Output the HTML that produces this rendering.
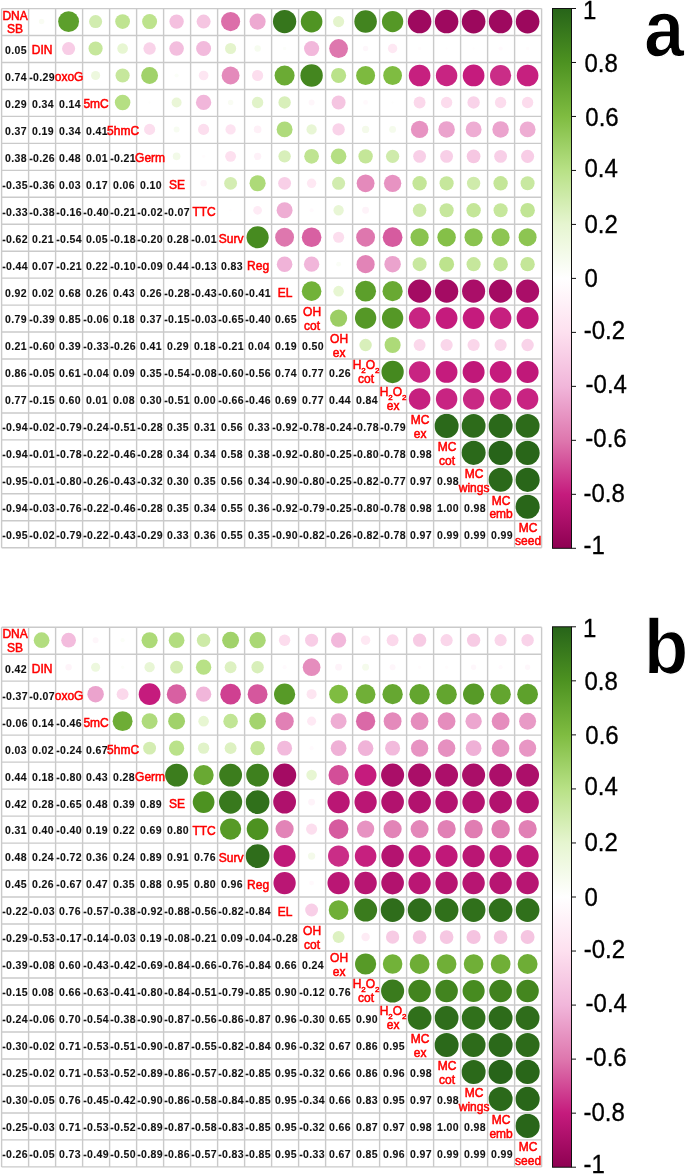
<!DOCTYPE html><html><head><meta charset="utf-8"><title>Correlation plots</title><style>html,body{margin:0;padding:0;background:#fff;overflow:hidden;}svg{display:block;}</style></head><body>
<svg width="685" height="1174" viewBox="0 0 685 1174">
<defs><linearGradient id="cbg" x1="0" y1="0" x2="0" y2="1"><stop offset="0.0" stop-color="#276419"/><stop offset="0.1" stop-color="#4D9221"/><stop offset="0.2" stop-color="#7FBC41"/><stop offset="0.3" stop-color="#B8E186"/><stop offset="0.4" stop-color="#E6F5D0"/><stop offset="0.5" stop-color="#FFFFFF"/><stop offset="0.6" stop-color="#FDE0EF"/><stop offset="0.7" stop-color="#F1B6DA"/><stop offset="0.8" stop-color="#DE77AE"/><stop offset="0.9" stop-color="#C51B7D"/><stop offset="1.0" stop-color="#8E0152"/></linearGradient></defs>
<rect width="685" height="1174" fill="#fff"/>
<g>
<circle cx="41.60" cy="21.58" r="2.72" fill="#f9fcf3"/>
<circle cx="68.60" cy="21.58" r="10.45" fill="#5c9f2b"/>
<circle cx="95.60" cy="21.58" r="6.54" fill="#d1ecaf"/>
<circle cx="122.60" cy="21.58" r="7.39" fill="#bfe491"/>
<circle cx="149.60" cy="21.58" r="7.49" fill="#bde38d"/>
<circle cx="176.60" cy="21.58" r="7.19" fill="#f4c0df"/>
<circle cx="203.60" cy="21.58" r="6.98" fill="#f5c5e1"/>
<circle cx="230.60" cy="21.58" r="9.57" fill="#dc6ea9"/>
<circle cx="257.60" cy="21.58" r="8.06" fill="#eda9d1"/>
<circle cx="284.60" cy="21.58" r="11.65" fill="#36761c"/>
<circle cx="311.60" cy="21.58" r="10.80" fill="#509423"/>
<circle cx="338.60" cy="21.58" r="5.57" fill="#e4f4cc"/>
<circle cx="365.60" cy="21.58" r="11.27" fill="#42841f"/>
<circle cx="392.60" cy="21.58" r="10.66" fill="#559826"/>
<circle cx="419.60" cy="21.58" r="11.78" fill="#9e095f"/>
<circle cx="446.60" cy="21.58" r="11.78" fill="#9e095f"/>
<circle cx="473.60" cy="21.58" r="11.84" fill="#9c085d"/>
<circle cx="500.60" cy="21.58" r="11.78" fill="#9e095f"/>
<circle cx="527.60" cy="21.58" r="11.84" fill="#9c085d"/>
<circle cx="68.60" cy="48.53" r="6.54" fill="#f8cde6"/>
<circle cx="95.60" cy="48.53" r="7.08" fill="#c6e79c"/>
<circle cx="122.60" cy="48.53" r="5.30" fill="#e7f6d2"/>
<circle cx="149.60" cy="48.53" r="6.20" fill="#f9d3e9"/>
<circle cx="176.60" cy="48.53" r="7.29" fill="#f3bede"/>
<circle cx="203.60" cy="48.53" r="7.49" fill="#f2badc"/>
<circle cx="230.60" cy="48.53" r="5.57" fill="#e4f4cc"/>
<circle cx="257.60" cy="48.53" r="3.21" fill="#f6fcef"/>
<circle cx="284.60" cy="48.53" r="1.72" fill="#fcfefa"/>
<circle cx="311.60" cy="48.53" r="7.59" fill="#f2b8db"/>
<circle cx="338.60" cy="48.53" r="9.41" fill="#de77ae"/>
<circle cx="365.60" cy="48.53" r="2.72" fill="#fef7fb"/>
<circle cx="392.60" cy="48.53" r="4.71" fill="#fee8f3"/>
<circle cx="419.60" cy="48.53" r="1.72" fill="#fffcfd"/>
<circle cx="446.60" cy="48.53" r="1.22" fill="#fffdfe"/>
<circle cx="473.60" cy="48.53" r="1.22" fill="#fffdfe"/>
<circle cx="500.60" cy="48.53" r="2.10" fill="#fffafd"/>
<circle cx="527.60" cy="48.53" r="1.72" fill="#fffcfd"/>
<circle cx="95.60" cy="75.49" r="4.55" fill="#edf8de"/>
<circle cx="122.60" cy="75.49" r="7.08" fill="#c6e79c"/>
<circle cx="149.60" cy="75.49" r="8.42" fill="#a1d26a"/>
<circle cx="176.60" cy="75.49" r="2.10" fill="#fbfef8"/>
<circle cx="203.60" cy="75.49" r="4.86" fill="#fde6f2"/>
<circle cx="230.60" cy="75.49" r="8.93" fill="#e48abb"/>
<circle cx="257.60" cy="75.49" r="5.57" fill="#fcdeee"/>
<circle cx="284.60" cy="75.49" r="10.02" fill="#6bab34"/>
<circle cx="311.60" cy="75.49" r="11.20" fill="#44861f"/>
<circle cx="338.60" cy="75.49" r="7.59" fill="#bae28a"/>
<circle cx="365.60" cy="75.49" r="9.49" fill="#7dba3f"/>
<circle cx="392.60" cy="75.49" r="9.41" fill="#7fbc41"/>
<circle cx="419.60" cy="75.49" r="10.80" fill="#c6207f"/>
<circle cx="446.60" cy="75.49" r="10.73" fill="#c82482"/>
<circle cx="473.60" cy="75.49" r="10.87" fill="#c51b7d"/>
<circle cx="500.60" cy="75.49" r="10.59" fill="#ca2d87"/>
<circle cx="527.60" cy="75.49" r="10.80" fill="#c6207f"/>
<circle cx="122.60" cy="102.44" r="7.78" fill="#b5df83"/>
<circle cx="149.60" cy="102.44" r="1.22" fill="#fefefd"/>
<circle cx="176.60" cy="102.44" r="5.01" fill="#eaf6d7"/>
<circle cx="203.60" cy="102.44" r="7.68" fill="#f1b6da"/>
<circle cx="230.60" cy="102.44" r="2.72" fill="#f9fcf3"/>
<circle cx="257.60" cy="102.44" r="5.70" fill="#e1f3c9"/>
<circle cx="284.60" cy="102.44" r="6.20" fill="#d8efba"/>
<circle cx="311.60" cy="102.44" r="2.98" fill="#fef6fa"/>
<circle cx="338.60" cy="102.44" r="6.98" fill="#f5c5e1"/>
<circle cx="365.60" cy="102.44" r="2.43" fill="#fff9fc"/>
<circle cx="392.60" cy="102.44" r="1.22" fill="#fefefd"/>
<circle cx="419.60" cy="102.44" r="5.95" fill="#fbd8eb"/>
<circle cx="446.60" cy="102.44" r="5.70" fill="#fcdced"/>
<circle cx="473.60" cy="102.44" r="6.20" fill="#f9d3e9"/>
<circle cx="500.60" cy="102.44" r="5.70" fill="#fcdced"/>
<circle cx="527.60" cy="102.44" r="5.70" fill="#fcdced"/>
<circle cx="149.60" cy="129.40" r="5.57" fill="#fcdeee"/>
<circle cx="176.60" cy="129.40" r="2.98" fill="#f7fcf1"/>
<circle cx="203.60" cy="129.40" r="5.57" fill="#fcdeee"/>
<circle cx="230.60" cy="129.40" r="5.15" fill="#fde3f1"/>
<circle cx="257.60" cy="129.40" r="3.84" fill="#fef0f7"/>
<circle cx="284.60" cy="129.40" r="7.97" fill="#afdb7c"/>
<circle cx="311.60" cy="129.40" r="5.15" fill="#e8f6d5"/>
<circle cx="338.60" cy="129.40" r="6.20" fill="#f9d3e9"/>
<circle cx="365.60" cy="129.40" r="3.65" fill="#f4faea"/>
<circle cx="392.60" cy="129.40" r="3.44" fill="#f5fbec"/>
<circle cx="419.60" cy="129.40" r="8.68" fill="#e793c2"/>
<circle cx="446.60" cy="129.40" r="8.24" fill="#eba3cd"/>
<circle cx="473.60" cy="129.40" r="7.97" fill="#eeadd3"/>
<circle cx="500.60" cy="129.40" r="8.24" fill="#eba3cd"/>
<circle cx="527.60" cy="129.40" r="7.97" fill="#eeadd3"/>
<circle cx="176.60" cy="156.35" r="3.84" fill="#f2fae8"/>
<circle cx="203.60" cy="156.35" r="1.72" fill="#fffcfd"/>
<circle cx="230.60" cy="156.35" r="5.43" fill="#fde0ef"/>
<circle cx="257.60" cy="156.35" r="3.65" fill="#fef1f8"/>
<circle cx="284.60" cy="156.35" r="6.20" fill="#d8efba"/>
<circle cx="311.60" cy="156.35" r="7.39" fill="#bfe491"/>
<circle cx="338.60" cy="156.35" r="7.78" fill="#b5df83"/>
<circle cx="365.60" cy="156.35" r="7.19" fill="#c4e698"/>
<circle cx="392.60" cy="156.35" r="6.65" fill="#cfebab"/>
<circle cx="419.60" cy="156.35" r="6.43" fill="#f8cfe7"/>
<circle cx="446.60" cy="156.35" r="6.43" fill="#f8cfe7"/>
<circle cx="473.60" cy="156.35" r="6.87" fill="#f6c7e2"/>
<circle cx="500.60" cy="156.35" r="6.43" fill="#f8cfe7"/>
<circle cx="527.60" cy="156.35" r="6.54" fill="#f8cde6"/>
<circle cx="203.60" cy="183.31" r="3.21" fill="#fef4f9"/>
<circle cx="230.60" cy="183.31" r="6.43" fill="#d4edb2"/>
<circle cx="257.60" cy="183.31" r="8.06" fill="#adda78"/>
<circle cx="284.60" cy="183.31" r="6.43" fill="#f8cfe7"/>
<circle cx="311.60" cy="183.31" r="4.71" fill="#fee8f3"/>
<circle cx="338.60" cy="183.31" r="6.54" fill="#d1ecaf"/>
<circle cx="365.60" cy="183.31" r="8.93" fill="#e48abb"/>
<circle cx="392.60" cy="183.31" r="8.68" fill="#e793c2"/>
<circle cx="419.60" cy="183.31" r="7.19" fill="#c4e698"/>
<circle cx="446.60" cy="183.31" r="7.08" fill="#c6e79c"/>
<circle cx="473.60" cy="183.31" r="6.65" fill="#cfebab"/>
<circle cx="500.60" cy="183.31" r="7.19" fill="#c4e698"/>
<circle cx="527.60" cy="183.31" r="6.98" fill="#c8e8a0"/>
<circle cx="230.60" cy="210.26" r="1.22" fill="#fffdfe"/>
<circle cx="257.60" cy="210.26" r="4.38" fill="#feebf5"/>
<circle cx="284.60" cy="210.26" r="7.97" fill="#eeadd3"/>
<circle cx="311.60" cy="210.26" r="2.10" fill="#fffafd"/>
<circle cx="338.60" cy="210.26" r="5.15" fill="#e8f6d5"/>
<circle cx="365.60" cy="210.26" r="3.44" fill="#fef3f9"/>
<circle cx="419.60" cy="210.26" r="6.76" fill="#cdeaa7"/>
<circle cx="446.60" cy="210.26" r="7.08" fill="#c6e79c"/>
<circle cx="473.60" cy="210.26" r="7.19" fill="#c4e698"/>
<circle cx="500.60" cy="210.26" r="7.08" fill="#c6e79c"/>
<circle cx="527.60" cy="210.26" r="7.29" fill="#c1e595"/>
<circle cx="257.60" cy="237.22" r="11.07" fill="#478b20"/>
<circle cx="284.60" cy="237.22" r="9.41" fill="#de77ae"/>
<circle cx="311.60" cy="237.22" r="9.80" fill="#d860a2"/>
<circle cx="338.60" cy="237.22" r="5.57" fill="#fcdeee"/>
<circle cx="365.60" cy="237.22" r="9.41" fill="#de77ae"/>
<circle cx="392.60" cy="237.22" r="9.87" fill="#d65b9f"/>
<circle cx="419.60" cy="237.22" r="9.09" fill="#8ac34f"/>
<circle cx="446.60" cy="237.22" r="9.25" fill="#85c048"/>
<circle cx="473.60" cy="237.22" r="9.09" fill="#8ac34f"/>
<circle cx="500.60" cy="237.22" r="9.01" fill="#8dc552"/>
<circle cx="527.60" cy="237.22" r="9.01" fill="#8dc552"/>
<circle cx="284.60" cy="264.17" r="7.78" fill="#f0b3d8"/>
<circle cx="311.60" cy="264.17" r="7.68" fill="#f1b6da"/>
<circle cx="338.60" cy="264.17" r="2.43" fill="#fafdf6"/>
<circle cx="365.60" cy="264.17" r="9.09" fill="#e284b7"/>
<circle cx="392.60" cy="264.17" r="8.24" fill="#eba3cd"/>
<circle cx="419.60" cy="264.17" r="6.98" fill="#c8e8a0"/>
<circle cx="446.60" cy="264.17" r="7.49" fill="#bde38d"/>
<circle cx="473.60" cy="264.17" r="7.08" fill="#c6e79c"/>
<circle cx="500.60" cy="264.17" r="7.29" fill="#c1e595"/>
<circle cx="527.60" cy="264.17" r="7.19" fill="#c4e698"/>
<circle cx="311.60" cy="291.13" r="9.80" fill="#72b239"/>
<circle cx="338.60" cy="291.13" r="5.30" fill="#e7f6d2"/>
<circle cx="365.60" cy="291.13" r="10.45" fill="#5c9f2b"/>
<circle cx="392.60" cy="291.13" r="10.09" fill="#69a933"/>
<circle cx="419.60" cy="291.13" r="11.65" fill="#a40b63"/>
<circle cx="446.60" cy="291.13" r="11.65" fill="#a40b63"/>
<circle cx="473.60" cy="291.13" r="11.53" fill="#aa0e68"/>
<circle cx="500.60" cy="291.13" r="11.65" fill="#a40b63"/>
<circle cx="527.60" cy="291.13" r="11.53" fill="#aa0e68"/>
<circle cx="338.60" cy="318.08" r="8.59" fill="#9cce64"/>
<circle cx="365.60" cy="318.08" r="10.66" fill="#559826"/>
<circle cx="392.60" cy="318.08" r="10.66" fill="#559826"/>
<circle cx="419.60" cy="318.08" r="10.73" fill="#c82482"/>
<circle cx="446.60" cy="318.08" r="10.87" fill="#c51b7d"/>
<circle cx="473.60" cy="318.08" r="10.87" fill="#c51b7d"/>
<circle cx="500.60" cy="318.08" r="10.80" fill="#c6207f"/>
<circle cx="527.60" cy="318.08" r="11.00" fill="#c01879"/>
<circle cx="365.60" cy="345.04" r="6.20" fill="#d8efba"/>
<circle cx="392.60" cy="345.04" r="8.06" fill="#adda78"/>
<circle cx="419.60" cy="345.04" r="5.95" fill="#fbd8eb"/>
<circle cx="446.60" cy="345.04" r="6.08" fill="#fad6ea"/>
<circle cx="473.60" cy="345.04" r="6.08" fill="#fad6ea"/>
<circle cx="500.60" cy="345.04" r="6.08" fill="#fad6ea"/>
<circle cx="527.60" cy="345.04" r="6.20" fill="#f9d3e9"/>
<circle cx="392.60" cy="371.99" r="11.14" fill="#45891f"/>
<circle cx="419.60" cy="371.99" r="10.73" fill="#c82482"/>
<circle cx="446.60" cy="371.99" r="10.87" fill="#c51b7d"/>
<circle cx="473.60" cy="371.99" r="11.00" fill="#c01879"/>
<circle cx="500.60" cy="371.99" r="10.87" fill="#c51b7d"/>
<circle cx="527.60" cy="371.99" r="11.00" fill="#c01879"/>
<circle cx="419.60" cy="398.95" r="10.80" fill="#c6207f"/>
<circle cx="446.60" cy="398.95" r="10.73" fill="#c82482"/>
<circle cx="473.60" cy="398.95" r="10.66" fill="#c92984"/>
<circle cx="500.60" cy="398.95" r="10.73" fill="#c82482"/>
<circle cx="527.60" cy="398.95" r="10.73" fill="#c82482"/>
<circle cx="446.60" cy="425.90" r="12.03" fill="#2b691a"/>
<circle cx="473.60" cy="425.90" r="11.97" fill="#2d6b1a"/>
<circle cx="500.60" cy="425.90" r="12.03" fill="#2b691a"/>
<circle cx="527.60" cy="425.90" r="11.97" fill="#2d6b1a"/>
<circle cx="473.60" cy="452.86" r="12.03" fill="#2b691a"/>
<circle cx="500.60" cy="452.86" r="12.15" fill="#276419"/>
<circle cx="527.60" cy="452.86" r="12.09" fill="#296619"/>
<circle cx="500.60" cy="479.81" r="12.03" fill="#2b691a"/>
<circle cx="527.60" cy="479.81" r="12.09" fill="#296619"/>
<circle cx="527.60" cy="506.77" r="12.09" fill="#296619"/>
</g>
<path d="M1.60 8.60V547.70M1.60 8.60H541.60M28.60 8.60V547.70M1.60 35.55H541.60M55.60 8.60V547.70M1.60 62.51H541.60M82.60 8.60V547.70M1.60 89.46H541.60M109.60 8.60V547.70M1.60 116.42H541.60M136.60 8.60V547.70M1.60 143.37H541.60M163.60 8.60V547.70M1.60 170.33H541.60M190.60 8.60V547.70M1.60 197.28H541.60M217.60 8.60V547.70M1.60 224.24H541.60M244.60 8.60V547.70M1.60 251.19H541.60M271.60 8.60V547.70M1.60 278.15H541.60M298.60 8.60V547.70M1.60 305.11H541.60M325.60 8.60V547.70M1.60 332.06H541.60M352.60 8.60V547.70M1.60 359.01H541.60M379.60 8.60V547.70M1.60 385.97H541.60M406.60 8.60V547.70M1.60 412.93H541.60M433.60 8.60V547.70M1.60 439.88H541.60M460.60 8.60V547.70M1.60 466.83H541.60M487.60 8.60V547.70M1.60 493.79H541.60M514.60 8.60V547.70M1.60 520.75H541.60M541.60 8.60V547.70M1.60 547.70H541.60" stroke="#cacaca" stroke-width="1.4" fill="none"/>
<g font-family="Liberation Sans, Arial, sans-serif" font-weight="bold" font-size="10.5" fill="#111" stroke="#111" stroke-width="0.1" letter-spacing="0.4" text-anchor="middle">
<text x="16.00" y="53.93">0.05</text>
<text x="16.00" y="80.89">0.74</text>
<text x="42.10" y="80.89">-0.29</text>
<text x="16.00" y="107.84">0.29</text>
<text x="43.00" y="107.84">0.34</text>
<text x="70.00" y="107.84">0.14</text>
<text x="16.00" y="134.80">0.37</text>
<text x="43.00" y="134.80">0.19</text>
<text x="70.00" y="134.80">0.34</text>
<text x="97.00" y="134.80">0.41</text>
<text x="16.00" y="161.75">0.38</text>
<text x="42.10" y="161.75">-0.26</text>
<text x="70.00" y="161.75">0.48</text>
<text x="97.00" y="161.75">0.01</text>
<text x="123.10" y="161.75">-0.21</text>
<text x="15.10" y="188.71">-0.35</text>
<text x="42.10" y="188.71">-0.36</text>
<text x="70.00" y="188.71">0.03</text>
<text x="97.00" y="188.71">0.17</text>
<text x="124.00" y="188.71">0.06</text>
<text x="151.00" y="188.71">0.10</text>
<text x="15.10" y="215.66">-0.33</text>
<text x="42.10" y="215.66">-0.38</text>
<text x="69.10" y="215.66">-0.16</text>
<text x="96.10" y="215.66">-0.40</text>
<text x="123.10" y="215.66">-0.21</text>
<text x="150.10" y="215.66">-0.02</text>
<text x="177.10" y="215.66">-0.07</text>
<text x="15.10" y="242.62">-0.62</text>
<text x="43.00" y="242.62">0.21</text>
<text x="69.10" y="242.62">-0.54</text>
<text x="97.00" y="242.62">0.05</text>
<text x="123.10" y="242.62">-0.18</text>
<text x="150.10" y="242.62">-0.20</text>
<text x="178.00" y="242.62">0.28</text>
<text x="204.10" y="242.62">-0.01</text>
<text x="15.10" y="269.57">-0.44</text>
<text x="43.00" y="269.57">0.07</text>
<text x="69.10" y="269.57">-0.21</text>
<text x="97.00" y="269.57">0.22</text>
<text x="123.10" y="269.57">-0.10</text>
<text x="150.10" y="269.57">-0.09</text>
<text x="178.00" y="269.57">0.44</text>
<text x="204.10" y="269.57">-0.13</text>
<text x="232.00" y="269.57">0.83</text>
<text x="16.00" y="296.53">0.92</text>
<text x="43.00" y="296.53">0.02</text>
<text x="70.00" y="296.53">0.68</text>
<text x="97.00" y="296.53">0.26</text>
<text x="124.00" y="296.53">0.43</text>
<text x="151.00" y="296.53">0.26</text>
<text x="177.10" y="296.53">-0.28</text>
<text x="204.10" y="296.53">-0.43</text>
<text x="231.10" y="296.53">-0.60</text>
<text x="258.10" y="296.53">-0.41</text>
<text x="16.00" y="323.48">0.79</text>
<text x="42.10" y="323.48">-0.39</text>
<text x="70.00" y="323.48">0.85</text>
<text x="96.10" y="323.48">-0.06</text>
<text x="124.00" y="323.48">0.18</text>
<text x="151.00" y="323.48">0.37</text>
<text x="177.10" y="323.48">-0.15</text>
<text x="204.10" y="323.48">-0.03</text>
<text x="231.10" y="323.48">-0.65</text>
<text x="258.10" y="323.48">-0.40</text>
<text x="286.00" y="323.48">0.65</text>
<text x="16.00" y="350.44">0.21</text>
<text x="42.10" y="350.44">-0.60</text>
<text x="70.00" y="350.44">0.39</text>
<text x="96.10" y="350.44">-0.33</text>
<text x="123.10" y="350.44">-0.26</text>
<text x="151.00" y="350.44">0.41</text>
<text x="178.00" y="350.44">0.29</text>
<text x="205.00" y="350.44">0.18</text>
<text x="231.10" y="350.44">-0.21</text>
<text x="259.00" y="350.44">0.04</text>
<text x="286.00" y="350.44">0.19</text>
<text x="313.00" y="350.44">0.50</text>
<text x="16.00" y="377.39">0.86</text>
<text x="42.10" y="377.39">-0.05</text>
<text x="70.00" y="377.39">0.61</text>
<text x="96.10" y="377.39">-0.04</text>
<text x="124.00" y="377.39">0.09</text>
<text x="151.00" y="377.39">0.35</text>
<text x="177.10" y="377.39">-0.54</text>
<text x="204.10" y="377.39">-0.08</text>
<text x="231.10" y="377.39">-0.60</text>
<text x="258.10" y="377.39">-0.56</text>
<text x="286.00" y="377.39">0.74</text>
<text x="313.00" y="377.39">0.77</text>
<text x="340.00" y="377.39">0.26</text>
<text x="16.00" y="404.35">0.77</text>
<text x="42.10" y="404.35">-0.15</text>
<text x="70.00" y="404.35">0.60</text>
<text x="97.00" y="404.35">0.01</text>
<text x="124.00" y="404.35">0.08</text>
<text x="151.00" y="404.35">0.30</text>
<text x="177.10" y="404.35">-0.51</text>
<text x="205.00" y="404.35">0.00</text>
<text x="231.10" y="404.35">-0.66</text>
<text x="258.10" y="404.35">-0.46</text>
<text x="286.00" y="404.35">0.69</text>
<text x="313.00" y="404.35">0.77</text>
<text x="340.00" y="404.35">0.44</text>
<text x="367.00" y="404.35">0.84</text>
<text x="15.10" y="431.30">-0.94</text>
<text x="42.10" y="431.30">-0.02</text>
<text x="69.10" y="431.30">-0.79</text>
<text x="96.10" y="431.30">-0.24</text>
<text x="123.10" y="431.30">-0.51</text>
<text x="150.10" y="431.30">-0.28</text>
<text x="178.00" y="431.30">0.35</text>
<text x="205.00" y="431.30">0.31</text>
<text x="232.00" y="431.30">0.56</text>
<text x="259.00" y="431.30">0.33</text>
<text x="285.10" y="431.30">-0.92</text>
<text x="312.10" y="431.30">-0.78</text>
<text x="339.10" y="431.30">-0.24</text>
<text x="366.10" y="431.30">-0.78</text>
<text x="393.10" y="431.30">-0.79</text>
<text x="15.10" y="458.26">-0.94</text>
<text x="42.10" y="458.26">-0.01</text>
<text x="69.10" y="458.26">-0.78</text>
<text x="96.10" y="458.26">-0.22</text>
<text x="123.10" y="458.26">-0.46</text>
<text x="150.10" y="458.26">-0.28</text>
<text x="178.00" y="458.26">0.34</text>
<text x="205.00" y="458.26">0.34</text>
<text x="232.00" y="458.26">0.58</text>
<text x="259.00" y="458.26">0.38</text>
<text x="285.10" y="458.26">-0.92</text>
<text x="312.10" y="458.26">-0.80</text>
<text x="339.10" y="458.26">-0.25</text>
<text x="366.10" y="458.26">-0.80</text>
<text x="393.10" y="458.26">-0.78</text>
<text x="421.00" y="458.26">0.98</text>
<text x="15.10" y="485.21">-0.95</text>
<text x="42.10" y="485.21">-0.01</text>
<text x="69.10" y="485.21">-0.80</text>
<text x="96.10" y="485.21">-0.26</text>
<text x="123.10" y="485.21">-0.43</text>
<text x="150.10" y="485.21">-0.32</text>
<text x="178.00" y="485.21">0.30</text>
<text x="205.00" y="485.21">0.35</text>
<text x="232.00" y="485.21">0.56</text>
<text x="259.00" y="485.21">0.34</text>
<text x="285.10" y="485.21">-0.90</text>
<text x="312.10" y="485.21">-0.80</text>
<text x="339.10" y="485.21">-0.25</text>
<text x="366.10" y="485.21">-0.82</text>
<text x="393.10" y="485.21">-0.77</text>
<text x="421.00" y="485.21">0.97</text>
<text x="448.00" y="485.21">0.98</text>
<text x="15.10" y="512.17">-0.94</text>
<text x="42.10" y="512.17">-0.03</text>
<text x="69.10" y="512.17">-0.76</text>
<text x="96.10" y="512.17">-0.22</text>
<text x="123.10" y="512.17">-0.46</text>
<text x="150.10" y="512.17">-0.28</text>
<text x="178.00" y="512.17">0.35</text>
<text x="205.00" y="512.17">0.34</text>
<text x="232.00" y="512.17">0.55</text>
<text x="259.00" y="512.17">0.36</text>
<text x="285.10" y="512.17">-0.92</text>
<text x="312.10" y="512.17">-0.79</text>
<text x="339.10" y="512.17">-0.25</text>
<text x="366.10" y="512.17">-0.80</text>
<text x="393.10" y="512.17">-0.78</text>
<text x="421.00" y="512.17">0.98</text>
<text x="448.00" y="512.17">1.00</text>
<text x="475.00" y="512.17">0.98</text>
<text x="15.10" y="539.12">-0.95</text>
<text x="42.10" y="539.12">-0.02</text>
<text x="69.10" y="539.12">-0.79</text>
<text x="96.10" y="539.12">-0.22</text>
<text x="123.10" y="539.12">-0.43</text>
<text x="150.10" y="539.12">-0.29</text>
<text x="178.00" y="539.12">0.33</text>
<text x="205.00" y="539.12">0.36</text>
<text x="232.00" y="539.12">0.55</text>
<text x="259.00" y="539.12">0.35</text>
<text x="285.10" y="539.12">-0.90</text>
<text x="312.10" y="539.12">-0.82</text>
<text x="339.10" y="539.12">-0.26</text>
<text x="366.10" y="539.12">-0.82</text>
<text x="393.10" y="539.12">-0.78</text>
<text x="421.00" y="539.12">0.97</text>
<text x="448.00" y="539.12">0.99</text>
<text x="475.00" y="539.12">0.99</text>
<text x="502.00" y="539.12">0.99</text>
</g>
<g font-family="Liberation Sans, Arial, sans-serif" font-size="12" fill="#ff0000" stroke="#ff0000" stroke-width="0.5" text-anchor="middle">
<text x="15.10" y="19.58">DNA</text>
<text x="15.10" y="33.28">SB</text>
<text x="42.10" y="54.13">DIN</text>
<text x="69.10" y="81.09">oxoG</text>
<text x="96.10" y="108.04">5mC</text>
<text x="123.10" y="135.00">5hmC</text>
<text x="150.10" y="161.95">Germ</text>
<text x="177.10" y="188.91">SE</text>
<text x="204.10" y="215.86">TTC</text>
<text x="231.10" y="242.82">Surv</text>
<text x="258.10" y="269.77">Reg</text>
<text x="285.10" y="296.73">EL</text>
<text x="312.10" y="316.08">OH</text>
<text x="312.10" y="329.78">cot</text>
<text x="339.10" y="343.04">OH</text>
<text x="339.10" y="356.74">ex</text>
<text x="366.10" y="369.09">H<tspan font-size="8" dy="4">2</tspan><tspan dy="-4">O</tspan><tspan font-size="8" dy="4">2</tspan></text>
<text x="366.10" y="383.09">cot</text>
<text x="393.10" y="396.05">H<tspan font-size="8" dy="4">2</tspan><tspan dy="-4">O</tspan><tspan font-size="8" dy="4">2</tspan></text>
<text x="393.10" y="410.05">ex</text>
<text x="420.10" y="423.90">MC</text>
<text x="420.10" y="437.60">ex</text>
<text x="447.10" y="450.86">MC</text>
<text x="447.10" y="464.56">cot</text>
<text x="474.10" y="477.81">MC</text>
<text x="474.10" y="491.51">wings</text>
<text x="501.10" y="504.77">MC</text>
<text x="501.10" y="518.47">emb</text>
<text x="528.10" y="531.72">MC</text>
<text x="528.10" y="545.42">seed</text>
</g>
<rect x="552.5" y="8.50" width="19.0" height="539.80" fill="url(#cbg)" stroke="#111" stroke-width="1"/>
<path d="M571.50 8.50h4.5M571.50 62.48h4.5M571.50 116.46h4.5M571.50 170.44h4.5M571.50 224.42h4.5M571.50 278.40h4.5M571.50 332.38h4.5M571.50 386.36h4.5M571.50 440.34h4.5M571.50 494.32h4.5M571.50 548.30h4.5" stroke="#111" stroke-width="1"/>
<g font-family="Liberation Sans, Arial, sans-serif" font-size="24" fill="#000" stroke="#000" stroke-width="0.3"><text transform="translate(583.00 18.82) scale(1 1.05)">1</text><text transform="translate(584.50 71.65) scale(1 1.05)">0.8</text><text transform="translate(585.30 125.58) scale(1 1.05)">0.6</text><text transform="translate(584.50 176.96) scale(1 1.05)">0.4</text><text transform="translate(584.50 232.94) scale(1 1.05)">0.2</text><text transform="translate(584.50 287.22) scale(1 1.05)">0</text><text transform="translate(583.70 339.20) scale(1 1.05)">-0.2</text><text transform="translate(585.60 393.13) scale(1 1.05)">-0.4</text><text transform="translate(585.30 447.36) scale(1 1.05)">-0.6</text><text transform="translate(583.40 501.99) scale(1 1.05)">-0.8</text><text transform="translate(583.40 554.07) scale(1 1.05)">-1</text></g>
<text transform="translate(644.1 55.9) scale(0.91 1)" font-family="Liberation Sans, Arial, sans-serif" font-weight="bold" font-size="79.5" fill="#000" stroke="#fff" stroke-width="1.3">a</text>
<g>
<circle cx="41.60" cy="640.19" r="7.87" fill="#b2dd7f"/>
<circle cx="68.60" cy="640.19" r="7.39" fill="#f3bcdd"/>
<circle cx="95.60" cy="640.19" r="2.98" fill="#fef6fa"/>
<circle cx="122.60" cy="640.19" r="2.10" fill="#fbfef8"/>
<circle cx="149.60" cy="640.19" r="8.06" fill="#adda78"/>
<circle cx="176.60" cy="640.19" r="7.87" fill="#b2dd7f"/>
<circle cx="203.60" cy="640.19" r="6.76" fill="#cdeaa7"/>
<circle cx="230.60" cy="640.19" r="8.42" fill="#a1d26a"/>
<circle cx="257.60" cy="640.19" r="8.15" fill="#aad875"/>
<circle cx="284.60" cy="640.19" r="5.70" fill="#fcdced"/>
<circle cx="311.60" cy="640.19" r="6.54" fill="#f8cde6"/>
<circle cx="338.60" cy="640.19" r="7.59" fill="#f2b8db"/>
<circle cx="365.60" cy="640.19" r="4.71" fill="#fee8f3"/>
<circle cx="392.60" cy="640.19" r="5.95" fill="#fbd8eb"/>
<circle cx="419.60" cy="640.19" r="6.65" fill="#f7cbe4"/>
<circle cx="446.60" cy="640.19" r="6.08" fill="#fad6ea"/>
<circle cx="473.60" cy="640.19" r="6.65" fill="#f7cbe4"/>
<circle cx="500.60" cy="640.19" r="6.08" fill="#fad6ea"/>
<circle cx="527.60" cy="640.19" r="6.20" fill="#f9d3e9"/>
<circle cx="68.60" cy="667.18" r="3.21" fill="#fef4f9"/>
<circle cx="95.60" cy="667.18" r="4.55" fill="#edf8de"/>
<circle cx="122.60" cy="667.18" r="1.72" fill="#fcfefa"/>
<circle cx="149.60" cy="667.18" r="5.15" fill="#e8f6d5"/>
<circle cx="176.60" cy="667.18" r="6.43" fill="#d4edb2"/>
<circle cx="203.60" cy="667.18" r="7.68" fill="#b8e186"/>
<circle cx="230.60" cy="667.18" r="5.95" fill="#ddf1c1"/>
<circle cx="257.60" cy="667.18" r="6.20" fill="#d8efba"/>
<circle cx="284.60" cy="667.18" r="2.10" fill="#fffafd"/>
<circle cx="311.60" cy="667.18" r="8.85" fill="#e58dbd"/>
<circle cx="338.60" cy="667.18" r="3.44" fill="#fef3f9"/>
<circle cx="365.60" cy="667.18" r="3.44" fill="#f5fbec"/>
<circle cx="392.60" cy="667.18" r="2.98" fill="#fef6fa"/>
<circle cx="419.60" cy="667.18" r="1.72" fill="#fffcfd"/>
<circle cx="446.60" cy="667.18" r="1.72" fill="#fffcfd"/>
<circle cx="473.60" cy="667.18" r="2.72" fill="#fef7fb"/>
<circle cx="500.60" cy="667.18" r="2.10" fill="#fffafd"/>
<circle cx="527.60" cy="667.18" r="2.72" fill="#fef7fb"/>
<circle cx="95.60" cy="694.16" r="8.24" fill="#eba3cd"/>
<circle cx="122.60" cy="694.16" r="5.95" fill="#fbd8eb"/>
<circle cx="149.60" cy="694.16" r="10.87" fill="#c51b7d"/>
<circle cx="176.60" cy="694.16" r="9.80" fill="#d860a2"/>
<circle cx="203.60" cy="694.16" r="7.68" fill="#f1b6da"/>
<circle cx="230.60" cy="694.16" r="10.31" fill="#cf4091"/>
<circle cx="257.60" cy="694.16" r="9.95" fill="#d5579d"/>
<circle cx="284.60" cy="694.16" r="10.59" fill="#579a27"/>
<circle cx="311.60" cy="694.16" r="5.01" fill="#fde5f1"/>
<circle cx="338.60" cy="694.16" r="9.41" fill="#7fbc41"/>
<circle cx="365.60" cy="694.16" r="9.87" fill="#70af37"/>
<circle cx="392.60" cy="694.16" r="10.17" fill="#66a731"/>
<circle cx="419.60" cy="694.16" r="10.24" fill="#63a52f"/>
<circle cx="446.60" cy="694.16" r="10.24" fill="#63a52f"/>
<circle cx="473.60" cy="694.16" r="10.59" fill="#579a27"/>
<circle cx="500.60" cy="694.16" r="10.24" fill="#63a52f"/>
<circle cx="527.60" cy="694.16" r="10.38" fill="#5ea12c"/>
<circle cx="122.60" cy="721.15" r="9.95" fill="#6ead36"/>
<circle cx="149.60" cy="721.15" r="7.97" fill="#afdb7c"/>
<circle cx="176.60" cy="721.15" r="8.42" fill="#a1d26a"/>
<circle cx="203.60" cy="721.15" r="5.30" fill="#e7f6d2"/>
<circle cx="230.60" cy="721.15" r="7.29" fill="#c1e595"/>
<circle cx="257.60" cy="721.15" r="8.33" fill="#a4d46e"/>
<circle cx="284.60" cy="721.15" r="9.17" fill="#e180b5"/>
<circle cx="311.60" cy="721.15" r="4.55" fill="#fee9f4"/>
<circle cx="338.60" cy="721.15" r="7.97" fill="#eeadd3"/>
<circle cx="365.60" cy="721.15" r="9.64" fill="#da69a7"/>
<circle cx="392.60" cy="721.15" r="8.93" fill="#e48abb"/>
<circle cx="419.60" cy="721.15" r="8.85" fill="#e58dbd"/>
<circle cx="446.60" cy="721.15" r="8.85" fill="#e58dbd"/>
<circle cx="473.60" cy="721.15" r="8.15" fill="#eca6cf"/>
<circle cx="500.60" cy="721.15" r="8.85" fill="#e58dbd"/>
<circle cx="527.60" cy="721.15" r="8.51" fill="#e89ac6"/>
<circle cx="149.60" cy="748.13" r="6.43" fill="#d4edb2"/>
<circle cx="176.60" cy="748.13" r="7.59" fill="#bae28a"/>
<circle cx="203.60" cy="748.13" r="5.70" fill="#e1f3c9"/>
<circle cx="230.60" cy="748.13" r="5.95" fill="#ddf1c1"/>
<circle cx="257.60" cy="748.13" r="7.19" fill="#c4e698"/>
<circle cx="284.60" cy="748.13" r="7.49" fill="#f2badc"/>
<circle cx="311.60" cy="748.13" r="2.10" fill="#fffafd"/>
<circle cx="338.60" cy="748.13" r="7.87" fill="#efb0d6"/>
<circle cx="365.60" cy="748.13" r="7.78" fill="#f0b3d8"/>
<circle cx="392.60" cy="748.13" r="7.49" fill="#f2badc"/>
<circle cx="419.60" cy="748.13" r="8.68" fill="#e793c2"/>
<circle cx="446.60" cy="748.13" r="8.76" fill="#e690c0"/>
<circle cx="473.60" cy="748.13" r="7.87" fill="#efb0d6"/>
<circle cx="500.60" cy="748.13" r="8.76" fill="#e690c0"/>
<circle cx="527.60" cy="748.13" r="8.59" fill="#e896c4"/>
<circle cx="176.60" cy="775.12" r="11.46" fill="#3c7d1d"/>
<circle cx="203.60" cy="775.12" r="10.09" fill="#69a933"/>
<circle cx="230.60" cy="775.12" r="11.46" fill="#3c7d1d"/>
<circle cx="257.60" cy="775.12" r="11.40" fill="#3e801e"/>
<circle cx="284.60" cy="775.12" r="11.65" fill="#a40b63"/>
<circle cx="311.60" cy="775.12" r="5.30" fill="#e7f6d2"/>
<circle cx="338.60" cy="775.12" r="10.09" fill="#d34e98"/>
<circle cx="365.60" cy="775.12" r="10.87" fill="#c51b7d"/>
<circle cx="392.60" cy="775.12" r="11.53" fill="#aa0e68"/>
<circle cx="419.60" cy="775.12" r="11.53" fill="#aa0e68"/>
<circle cx="446.60" cy="775.12" r="11.46" fill="#ac0f6a"/>
<circle cx="473.60" cy="775.12" r="11.53" fill="#aa0e68"/>
<circle cx="500.60" cy="775.12" r="11.46" fill="#ac0f6a"/>
<circle cx="527.60" cy="775.12" r="11.46" fill="#ac0f6a"/>
<circle cx="203.60" cy="802.10" r="10.87" fill="#4d9221"/>
<circle cx="230.60" cy="802.10" r="11.59" fill="#38791d"/>
<circle cx="257.60" cy="802.10" r="11.84" fill="#30701b"/>
<circle cx="284.60" cy="802.10" r="11.40" fill="#af116c"/>
<circle cx="311.60" cy="802.10" r="3.44" fill="#fef3f9"/>
<circle cx="338.60" cy="802.10" r="11.14" fill="#ba1674"/>
<circle cx="365.60" cy="802.10" r="11.14" fill="#ba1674"/>
<circle cx="392.60" cy="802.10" r="11.33" fill="#b2126e"/>
<circle cx="419.60" cy="802.10" r="11.33" fill="#b2126e"/>
<circle cx="446.60" cy="802.10" r="11.27" fill="#b41370"/>
<circle cx="473.60" cy="802.10" r="11.27" fill="#b41370"/>
<circle cx="500.60" cy="802.10" r="11.33" fill="#b2126e"/>
<circle cx="527.60" cy="802.10" r="11.27" fill="#b41370"/>
<circle cx="230.60" cy="829.09" r="10.59" fill="#579a27"/>
<circle cx="257.60" cy="829.09" r="10.87" fill="#4d9221"/>
<circle cx="284.60" cy="829.09" r="9.09" fill="#e284b7"/>
<circle cx="311.60" cy="829.09" r="5.57" fill="#fcdeee"/>
<circle cx="338.60" cy="829.09" r="9.87" fill="#d65b9f"/>
<circle cx="365.60" cy="829.09" r="8.68" fill="#e793c2"/>
<circle cx="392.60" cy="829.09" r="9.09" fill="#e284b7"/>
<circle cx="419.60" cy="829.09" r="9.01" fill="#e387b9"/>
<circle cx="446.60" cy="829.09" r="9.17" fill="#e180b5"/>
<circle cx="473.60" cy="829.09" r="9.25" fill="#e07db2"/>
<circle cx="500.60" cy="829.09" r="9.25" fill="#e07db2"/>
<circle cx="527.60" cy="829.09" r="9.17" fill="#e180b5"/>
<circle cx="257.60" cy="856.07" r="11.90" fill="#2f6d1b"/>
<circle cx="284.60" cy="856.07" r="11.00" fill="#c01879"/>
<circle cx="311.60" cy="856.07" r="3.65" fill="#f4faea"/>
<circle cx="338.60" cy="856.07" r="10.59" fill="#ca2d87"/>
<circle cx="365.60" cy="856.07" r="10.80" fill="#c6207f"/>
<circle cx="392.60" cy="856.07" r="11.27" fill="#b41370"/>
<circle cx="419.60" cy="856.07" r="11.00" fill="#c01879"/>
<circle cx="446.60" cy="856.07" r="11.00" fill="#c01879"/>
<circle cx="473.60" cy="856.07" r="11.14" fill="#ba1674"/>
<circle cx="500.60" cy="856.07" r="11.07" fill="#bd1777"/>
<circle cx="527.60" cy="856.07" r="11.07" fill="#bd1777"/>
<circle cx="284.60" cy="883.06" r="11.14" fill="#ba1674"/>
<circle cx="311.60" cy="883.06" r="2.43" fill="#fff9fc"/>
<circle cx="338.60" cy="883.06" r="11.14" fill="#ba1674"/>
<circle cx="365.60" cy="883.06" r="11.20" fill="#b71572"/>
<circle cx="392.60" cy="883.06" r="11.33" fill="#b2126e"/>
<circle cx="419.60" cy="883.06" r="11.14" fill="#ba1674"/>
<circle cx="446.60" cy="883.06" r="11.20" fill="#b71572"/>
<circle cx="473.60" cy="883.06" r="11.20" fill="#b71572"/>
<circle cx="500.60" cy="883.06" r="11.20" fill="#b71572"/>
<circle cx="527.60" cy="883.06" r="11.20" fill="#b71572"/>
<circle cx="311.60" cy="910.04" r="6.43" fill="#f8cfe7"/>
<circle cx="338.60" cy="910.04" r="9.87" fill="#70af37"/>
<circle cx="365.60" cy="910.04" r="11.53" fill="#3a7b1d"/>
<circle cx="392.60" cy="910.04" r="11.90" fill="#2f6d1b"/>
<circle cx="419.60" cy="910.04" r="11.90" fill="#2f6d1b"/>
<circle cx="446.60" cy="910.04" r="11.84" fill="#30701b"/>
<circle cx="473.60" cy="910.04" r="11.84" fill="#30701b"/>
<circle cx="500.60" cy="910.04" r="11.84" fill="#30701b"/>
<circle cx="527.60" cy="910.04" r="11.84" fill="#30701b"/>
<circle cx="338.60" cy="937.03" r="5.95" fill="#ddf1c1"/>
<circle cx="365.60" cy="937.03" r="4.21" fill="#feecf5"/>
<circle cx="392.60" cy="937.03" r="6.65" fill="#f7cbe4"/>
<circle cx="419.60" cy="937.03" r="6.87" fill="#f6c7e2"/>
<circle cx="446.60" cy="937.03" r="6.87" fill="#f6c7e2"/>
<circle cx="473.60" cy="937.03" r="7.08" fill="#f5c3e0"/>
<circle cx="500.60" cy="937.03" r="6.87" fill="#f6c7e2"/>
<circle cx="527.60" cy="937.03" r="6.98" fill="#f5c5e1"/>
<circle cx="365.60" cy="964.01" r="10.59" fill="#579a27"/>
<circle cx="392.60" cy="964.01" r="9.80" fill="#72b239"/>
<circle cx="419.60" cy="964.01" r="9.95" fill="#6ead36"/>
<circle cx="446.60" cy="964.01" r="9.87" fill="#70af37"/>
<circle cx="473.60" cy="964.01" r="9.87" fill="#70af37"/>
<circle cx="500.60" cy="964.01" r="9.87" fill="#70af37"/>
<circle cx="527.60" cy="964.01" r="9.95" fill="#6ead36"/>
<circle cx="392.60" cy="991.00" r="11.53" fill="#3a7b1d"/>
<circle cx="419.60" cy="991.00" r="11.27" fill="#42841f"/>
<circle cx="446.60" cy="991.00" r="11.27" fill="#42841f"/>
<circle cx="473.60" cy="991.00" r="11.07" fill="#478b20"/>
<circle cx="500.60" cy="991.00" r="11.33" fill="#40821e"/>
<circle cx="527.60" cy="991.00" r="11.20" fill="#44861f"/>
<circle cx="419.60" cy="1017.98" r="11.84" fill="#30701b"/>
<circle cx="446.60" cy="1017.98" r="11.90" fill="#2f6d1b"/>
<circle cx="473.60" cy="1017.98" r="11.84" fill="#30701b"/>
<circle cx="500.60" cy="1017.98" r="11.97" fill="#2d6b1a"/>
<circle cx="527.60" cy="1017.98" r="11.90" fill="#2f6d1b"/>
<circle cx="446.60" cy="1044.97" r="12.03" fill="#2b691a"/>
<circle cx="473.60" cy="1044.97" r="11.97" fill="#2d6b1a"/>
<circle cx="500.60" cy="1044.97" r="12.03" fill="#2b691a"/>
<circle cx="527.60" cy="1044.97" r="11.97" fill="#2d6b1a"/>
<circle cx="473.60" cy="1071.95" r="12.03" fill="#2b691a"/>
<circle cx="500.60" cy="1071.95" r="12.15" fill="#276419"/>
<circle cx="527.60" cy="1071.95" r="12.09" fill="#296619"/>
<circle cx="500.60" cy="1098.94" r="12.03" fill="#2b691a"/>
<circle cx="527.60" cy="1098.94" r="12.09" fill="#296619"/>
<circle cx="527.60" cy="1125.92" r="12.09" fill="#296619"/>
</g>
<path d="M1.60 627.20V1166.90M1.60 627.20H541.60M28.60 627.20V1166.90M1.60 654.19H541.60M55.60 627.20V1166.90M1.60 681.17H541.60M82.60 627.20V1166.90M1.60 708.16H541.60M109.60 627.20V1166.90M1.60 735.14H541.60M136.60 627.20V1166.90M1.60 762.12H541.60M163.60 627.20V1166.90M1.60 789.11H541.60M190.60 627.20V1166.90M1.60 816.10H541.60M217.60 627.20V1166.90M1.60 843.08H541.60M244.60 627.20V1166.90M1.60 870.07H541.60M271.60 627.20V1166.90M1.60 897.05H541.60M298.60 627.20V1166.90M1.60 924.04H541.60M325.60 627.20V1166.90M1.60 951.02H541.60M352.60 627.20V1166.90M1.60 978.01H541.60M379.60 627.20V1166.90M1.60 1004.99H541.60M406.60 627.20V1166.90M1.60 1031.97H541.60M433.60 627.20V1166.90M1.60 1058.96H541.60M460.60 627.20V1166.90M1.60 1085.95H541.60M487.60 627.20V1166.90M1.60 1112.93H541.60M514.60 627.20V1166.90M1.60 1139.91H541.60M541.60 627.20V1166.90M1.60 1166.90H541.60" stroke="#cacaca" stroke-width="1.4" fill="none"/>
<g font-family="Liberation Sans, Arial, sans-serif" font-weight="bold" font-size="10.5" fill="#111" stroke="#111" stroke-width="0.1" letter-spacing="0.4" text-anchor="middle">
<text x="16.00" y="672.58">0.42</text>
<text x="15.10" y="699.56">-0.37</text>
<text x="42.10" y="699.56">-0.07</text>
<text x="15.10" y="726.55">-0.06</text>
<text x="43.00" y="726.55">0.14</text>
<text x="69.10" y="726.55">-0.46</text>
<text x="16.00" y="753.53">0.03</text>
<text x="43.00" y="753.53">0.02</text>
<text x="69.10" y="753.53">-0.24</text>
<text x="97.00" y="753.53">0.67</text>
<text x="16.00" y="780.52">0.44</text>
<text x="43.00" y="780.52">0.18</text>
<text x="69.10" y="780.52">-0.80</text>
<text x="97.00" y="780.52">0.43</text>
<text x="124.00" y="780.52">0.28</text>
<text x="16.00" y="807.50">0.42</text>
<text x="43.00" y="807.50">0.28</text>
<text x="69.10" y="807.50">-0.65</text>
<text x="97.00" y="807.50">0.48</text>
<text x="124.00" y="807.50">0.39</text>
<text x="151.00" y="807.50">0.89</text>
<text x="16.00" y="834.49">0.31</text>
<text x="43.00" y="834.49">0.40</text>
<text x="69.10" y="834.49">-0.40</text>
<text x="97.00" y="834.49">0.19</text>
<text x="124.00" y="834.49">0.22</text>
<text x="151.00" y="834.49">0.69</text>
<text x="178.00" y="834.49">0.80</text>
<text x="16.00" y="861.47">0.48</text>
<text x="43.00" y="861.47">0.24</text>
<text x="69.10" y="861.47">-0.72</text>
<text x="97.00" y="861.47">0.36</text>
<text x="124.00" y="861.47">0.24</text>
<text x="151.00" y="861.47">0.89</text>
<text x="178.00" y="861.47">0.91</text>
<text x="205.00" y="861.47">0.76</text>
<text x="16.00" y="888.46">0.45</text>
<text x="43.00" y="888.46">0.26</text>
<text x="69.10" y="888.46">-0.67</text>
<text x="97.00" y="888.46">0.47</text>
<text x="124.00" y="888.46">0.35</text>
<text x="151.00" y="888.46">0.88</text>
<text x="178.00" y="888.46">0.95</text>
<text x="205.00" y="888.46">0.80</text>
<text x="232.00" y="888.46">0.96</text>
<text x="15.10" y="915.44">-0.22</text>
<text x="42.10" y="915.44">-0.03</text>
<text x="70.00" y="915.44">0.76</text>
<text x="96.10" y="915.44">-0.57</text>
<text x="123.10" y="915.44">-0.38</text>
<text x="150.10" y="915.44">-0.92</text>
<text x="177.10" y="915.44">-0.88</text>
<text x="204.10" y="915.44">-0.56</text>
<text x="231.10" y="915.44">-0.82</text>
<text x="258.10" y="915.44">-0.84</text>
<text x="15.10" y="942.43">-0.29</text>
<text x="42.10" y="942.43">-0.53</text>
<text x="69.10" y="942.43">-0.17</text>
<text x="96.10" y="942.43">-0.14</text>
<text x="123.10" y="942.43">-0.03</text>
<text x="151.00" y="942.43">0.19</text>
<text x="177.10" y="942.43">-0.08</text>
<text x="204.10" y="942.43">-0.21</text>
<text x="232.00" y="942.43">0.09</text>
<text x="258.10" y="942.43">-0.04</text>
<text x="285.10" y="942.43">-0.28</text>
<text x="15.10" y="969.41">-0.39</text>
<text x="42.10" y="969.41">-0.08</text>
<text x="70.00" y="969.41">0.60</text>
<text x="96.10" y="969.41">-0.43</text>
<text x="123.10" y="969.41">-0.42</text>
<text x="150.10" y="969.41">-0.69</text>
<text x="177.10" y="969.41">-0.84</text>
<text x="204.10" y="969.41">-0.66</text>
<text x="231.10" y="969.41">-0.76</text>
<text x="258.10" y="969.41">-0.84</text>
<text x="286.00" y="969.41">0.66</text>
<text x="313.00" y="969.41">0.24</text>
<text x="15.10" y="996.40">-0.15</text>
<text x="43.00" y="996.40">0.08</text>
<text x="70.00" y="996.40">0.66</text>
<text x="96.10" y="996.40">-0.63</text>
<text x="123.10" y="996.40">-0.41</text>
<text x="150.10" y="996.40">-0.80</text>
<text x="177.10" y="996.40">-0.84</text>
<text x="204.10" y="996.40">-0.51</text>
<text x="231.10" y="996.40">-0.79</text>
<text x="258.10" y="996.40">-0.85</text>
<text x="286.00" y="996.40">0.90</text>
<text x="312.10" y="996.40">-0.12</text>
<text x="340.00" y="996.40">0.76</text>
<text x="15.10" y="1023.38">-0.24</text>
<text x="42.10" y="1023.38">-0.06</text>
<text x="70.00" y="1023.38">0.70</text>
<text x="96.10" y="1023.38">-0.54</text>
<text x="123.10" y="1023.38">-0.38</text>
<text x="150.10" y="1023.38">-0.90</text>
<text x="177.10" y="1023.38">-0.87</text>
<text x="204.10" y="1023.38">-0.56</text>
<text x="231.10" y="1023.38">-0.86</text>
<text x="258.10" y="1023.38">-0.87</text>
<text x="286.00" y="1023.38">0.96</text>
<text x="312.10" y="1023.38">-0.30</text>
<text x="340.00" y="1023.38">0.65</text>
<text x="367.00" y="1023.38">0.90</text>
<text x="15.10" y="1050.37">-0.30</text>
<text x="42.10" y="1050.37">-0.02</text>
<text x="70.00" y="1050.37">0.71</text>
<text x="96.10" y="1050.37">-0.53</text>
<text x="123.10" y="1050.37">-0.51</text>
<text x="150.10" y="1050.37">-0.90</text>
<text x="177.10" y="1050.37">-0.87</text>
<text x="204.10" y="1050.37">-0.55</text>
<text x="231.10" y="1050.37">-0.82</text>
<text x="258.10" y="1050.37">-0.84</text>
<text x="286.00" y="1050.37">0.96</text>
<text x="312.10" y="1050.37">-0.32</text>
<text x="340.00" y="1050.37">0.67</text>
<text x="367.00" y="1050.37">0.86</text>
<text x="394.00" y="1050.37">0.95</text>
<text x="15.10" y="1077.35">-0.25</text>
<text x="42.10" y="1077.35">-0.02</text>
<text x="70.00" y="1077.35">0.71</text>
<text x="96.10" y="1077.35">-0.53</text>
<text x="123.10" y="1077.35">-0.52</text>
<text x="150.10" y="1077.35">-0.89</text>
<text x="177.10" y="1077.35">-0.86</text>
<text x="204.10" y="1077.35">-0.57</text>
<text x="231.10" y="1077.35">-0.82</text>
<text x="258.10" y="1077.35">-0.85</text>
<text x="286.00" y="1077.35">0.95</text>
<text x="312.10" y="1077.35">-0.32</text>
<text x="340.00" y="1077.35">0.66</text>
<text x="367.00" y="1077.35">0.86</text>
<text x="394.00" y="1077.35">0.96</text>
<text x="421.00" y="1077.35">0.98</text>
<text x="15.10" y="1104.34">-0.30</text>
<text x="42.10" y="1104.34">-0.05</text>
<text x="70.00" y="1104.34">0.76</text>
<text x="96.10" y="1104.34">-0.45</text>
<text x="123.10" y="1104.34">-0.42</text>
<text x="150.10" y="1104.34">-0.90</text>
<text x="177.10" y="1104.34">-0.86</text>
<text x="204.10" y="1104.34">-0.58</text>
<text x="231.10" y="1104.34">-0.84</text>
<text x="258.10" y="1104.34">-0.85</text>
<text x="286.00" y="1104.34">0.95</text>
<text x="312.10" y="1104.34">-0.34</text>
<text x="340.00" y="1104.34">0.66</text>
<text x="367.00" y="1104.34">0.83</text>
<text x="394.00" y="1104.34">0.95</text>
<text x="421.00" y="1104.34">0.97</text>
<text x="448.00" y="1104.34">0.98</text>
<text x="15.10" y="1131.32">-0.25</text>
<text x="42.10" y="1131.32">-0.03</text>
<text x="70.00" y="1131.32">0.71</text>
<text x="96.10" y="1131.32">-0.53</text>
<text x="123.10" y="1131.32">-0.52</text>
<text x="150.10" y="1131.32">-0.89</text>
<text x="177.10" y="1131.32">-0.87</text>
<text x="204.10" y="1131.32">-0.58</text>
<text x="231.10" y="1131.32">-0.83</text>
<text x="258.10" y="1131.32">-0.85</text>
<text x="286.00" y="1131.32">0.95</text>
<text x="312.10" y="1131.32">-0.32</text>
<text x="340.00" y="1131.32">0.66</text>
<text x="367.00" y="1131.32">0.87</text>
<text x="394.00" y="1131.32">0.97</text>
<text x="421.00" y="1131.32">0.98</text>
<text x="448.00" y="1131.32">1.00</text>
<text x="475.00" y="1131.32">0.98</text>
<text x="15.10" y="1158.31">-0.26</text>
<text x="42.10" y="1158.31">-0.05</text>
<text x="70.00" y="1158.31">0.73</text>
<text x="96.10" y="1158.31">-0.49</text>
<text x="123.10" y="1158.31">-0.50</text>
<text x="150.10" y="1158.31">-0.89</text>
<text x="177.10" y="1158.31">-0.86</text>
<text x="204.10" y="1158.31">-0.57</text>
<text x="231.10" y="1158.31">-0.83</text>
<text x="258.10" y="1158.31">-0.85</text>
<text x="286.00" y="1158.31">0.95</text>
<text x="312.10" y="1158.31">-0.33</text>
<text x="340.00" y="1158.31">0.67</text>
<text x="367.00" y="1158.31">0.85</text>
<text x="394.00" y="1158.31">0.96</text>
<text x="421.00" y="1158.31">0.97</text>
<text x="448.00" y="1158.31">0.99</text>
<text x="475.00" y="1158.31">0.99</text>
<text x="502.00" y="1158.31">0.99</text>
</g>
<g font-family="Liberation Sans, Arial, sans-serif" font-size="12" fill="#ff0000" stroke="#ff0000" stroke-width="0.5" text-anchor="middle">
<text x="15.10" y="638.19">DNA</text>
<text x="15.10" y="651.89">SB</text>
<text x="42.10" y="672.78">DIN</text>
<text x="69.10" y="699.76">oxoG</text>
<text x="96.10" y="726.75">5mC</text>
<text x="123.10" y="753.73">5hmC</text>
<text x="150.10" y="780.72">Germ</text>
<text x="177.10" y="807.70">SE</text>
<text x="204.10" y="834.69">TTC</text>
<text x="231.10" y="861.67">Surv</text>
<text x="258.10" y="888.66">Reg</text>
<text x="285.10" y="915.64">EL</text>
<text x="312.10" y="935.03">OH</text>
<text x="312.10" y="948.73">cot</text>
<text x="339.10" y="962.01">OH</text>
<text x="339.10" y="975.71">ex</text>
<text x="366.10" y="988.10">H<tspan font-size="8" dy="4">2</tspan><tspan dy="-4">O</tspan><tspan font-size="8" dy="4">2</tspan></text>
<text x="366.10" y="1002.10">cot</text>
<text x="393.10" y="1015.08">H<tspan font-size="8" dy="4">2</tspan><tspan dy="-4">O</tspan><tspan font-size="8" dy="4">2</tspan></text>
<text x="393.10" y="1029.08">ex</text>
<text x="420.10" y="1042.97">MC</text>
<text x="420.10" y="1056.67">ex</text>
<text x="447.10" y="1069.95">MC</text>
<text x="447.10" y="1083.65">cot</text>
<text x="474.10" y="1096.94">MC</text>
<text x="474.10" y="1110.64">wings</text>
<text x="501.10" y="1123.92">MC</text>
<text x="501.10" y="1137.62">emb</text>
<text x="528.10" y="1150.91">MC</text>
<text x="528.10" y="1164.61">seed</text>
</g>
<rect x="552.5" y="626.80" width="19.0" height="540.40" fill="url(#cbg)" stroke="#111" stroke-width="1"/>
<path d="M571.50 626.80h4.5M571.50 680.84h4.5M571.50 734.88h4.5M571.50 788.92h4.5M571.50 842.96h4.5M571.50 897.00h4.5M571.50 951.04h4.5M571.50 1005.08h4.5M571.50 1059.12h4.5M571.50 1113.16h4.5M571.50 1167.20h4.5" stroke="#111" stroke-width="1"/>
<g font-family="Liberation Sans, Arial, sans-serif" font-size="24" fill="#000" stroke="#000" stroke-width="0.3"><text transform="translate(583.00 637.12) scale(1 1.05)">1</text><text transform="translate(584.50 690.01) scale(1 1.05)">0.8</text><text transform="translate(585.30 744.00) scale(1 1.05)">0.6</text><text transform="translate(584.50 795.44) scale(1 1.05)">0.4</text><text transform="translate(584.50 851.48) scale(1 1.05)">0.2</text><text transform="translate(584.50 905.82) scale(1 1.05)">0</text><text transform="translate(583.70 957.86) scale(1 1.05)">-0.2</text><text transform="translate(585.60 1011.85) scale(1 1.05)">-0.4</text><text transform="translate(585.30 1066.14) scale(1 1.05)">-0.6</text><text transform="translate(583.40 1120.83) scale(1 1.05)">-0.8</text><text transform="translate(583.40 1172.97) scale(1 1.05)">-1</text></g>
<text transform="translate(643.7 674.3) scale(0.94 1)" font-family="Liberation Sans, Arial, sans-serif" font-weight="bold" font-size="77.8" fill="#000" stroke="#fff" stroke-width="1.3">b</text>
</svg></body></html>
